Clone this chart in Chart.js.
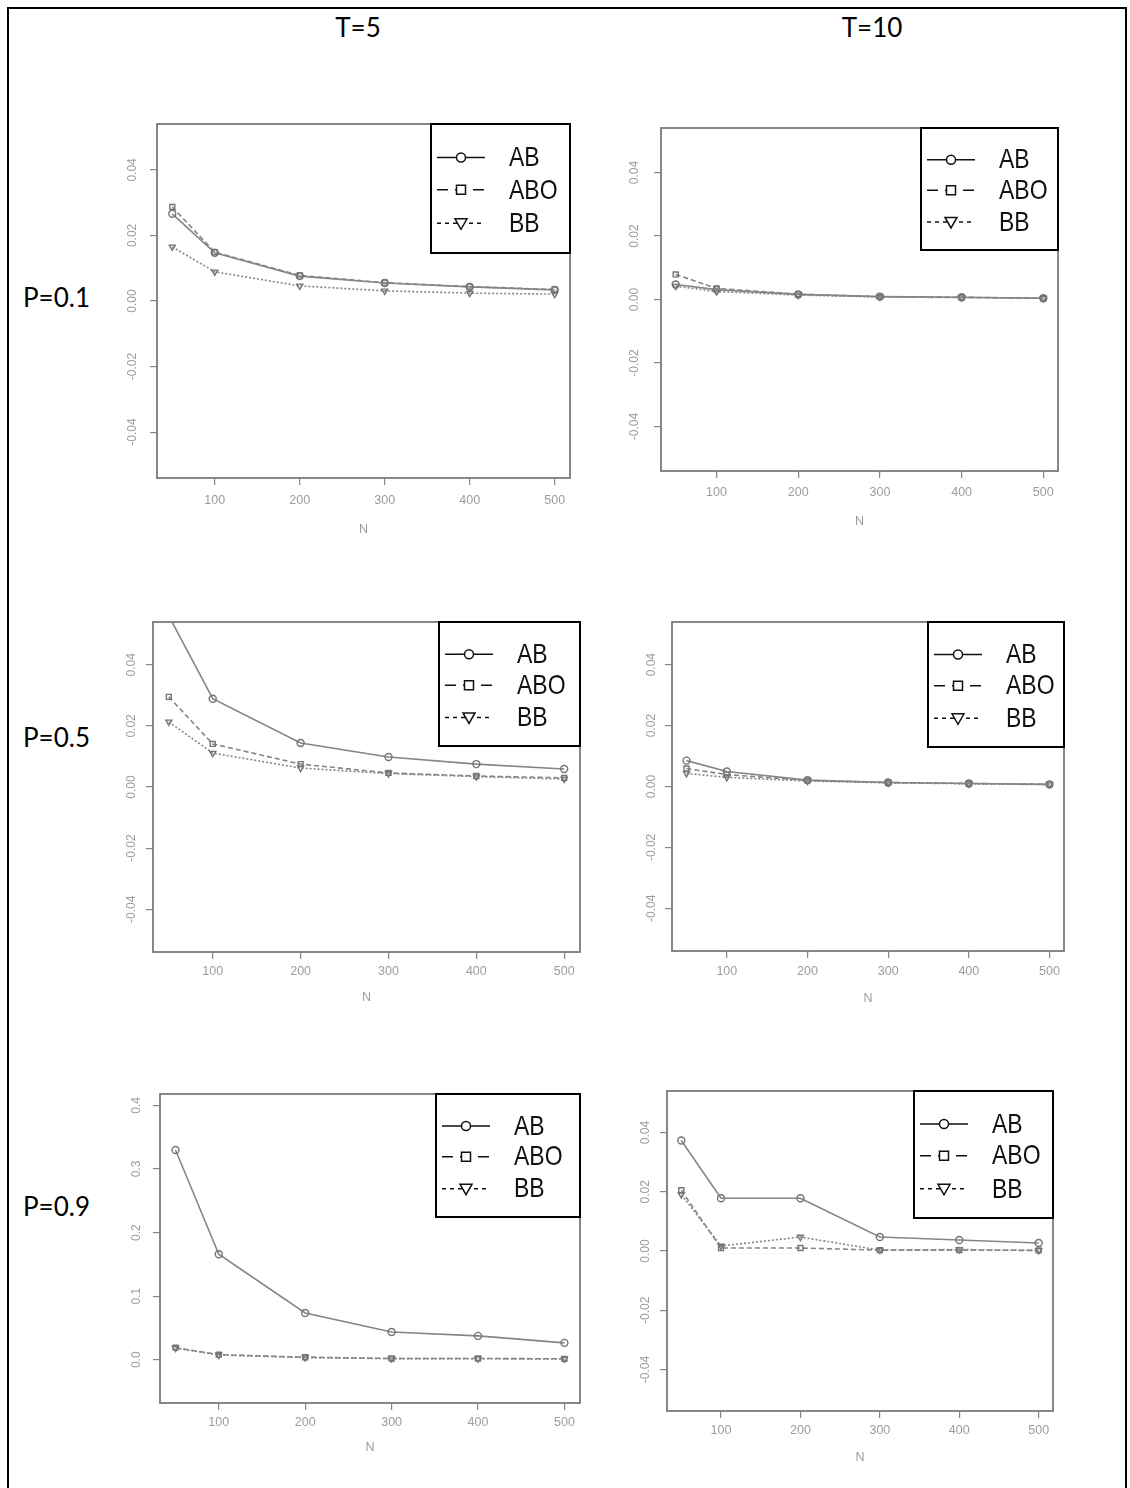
<!DOCTYPE html>
<html>
<head>
<meta charset="utf-8">
<script src="https://cdn.jsdelivr.net/npm/chart.js@4.4.1/dist/chart.umd.min.js"></script>
<style>
  html, body { margin: 0; padding: 0; background: #fff; }
  body { width: 1130px; height: 1488px; position: relative; overflow: hidden; font-family: Lato, "Liberation Sans", sans-serif; }
  #frame { position: absolute; left: 7px; top: 7px; width: 1116px; height: 1500px; border: 2px solid #000; }
  .lbl { position: absolute; font-size: 26px; line-height: 26px; color: #000; white-space: nowrap; }
  .ctr { transform: translateX(-50%); }
  canvas { position: absolute; background: #fff; }
</style>
</head>
<body>
<div id="frame"></div>
<div class="lbl ctr" style="left:358px;top:14px">T=5</div>
<div class="lbl ctr" style="left:872px;top:14px">T=10</div>
<div class="lbl" style="left:23px;top:284px">P=0.1</div>
<div class="lbl" style="left:23px;top:724px">P=0.5</div>
<div class="lbl" style="left:23px;top:1193px">P=0.9</div>

<script>
const nValues = [50, 100, 200, 300, 400, 500];
const nTicks = [100, 200, 300, 400, 500];
const methods = ["AB", "ABO", "BB"];

const yTicksSmall = [-0.04, -0.02, 0, 0.02, 0.04];
const yLabelsSmall = ["-0.04", "-0.02", "0.00", "0.02", "0.04"];
const yTicksLarge = [0, 0.1, 0.2, 0.3, 0.4];
const yLabelsLarge = ["0.0", "0.1", "0.2", "0.3", "0.4"];

// P=0.1, T=5
const abP1T5 = [0.0266, 0.0147, 0.0076, 0.0055, 0.0043, 0.0034];
const aboP1T5 = [0.0287, 0.0149, 0.0078, 0.0056, 0.0044, 0.0035];
const bbP1T5 = [0.0165, 0.0089, 0.0046, 0.0031, 0.0024, 0.0021];

// P=0.1, T=10
const abP1T10 = [0.0047, 0.0031, 0.0016, 0.0009, 0.0007, 0.0004];
const aboP1T10 = [0.0079, 0.0035, 0.0017, 0.0009, 0.0007, 0.0004];
const bbP1T10 = [0.0042, 0.0025, 0.0014, 0.0008, 0.0006, 0.0004];

// P=0.5, T=5
const abP5T5 = [0.056, 0.0289, 0.0144, 0.0098, 0.0075, 0.0059];
const aboP5T5 = [0.0295, 0.0141, 0.0075, 0.0046, 0.0036, 0.0030];
const bbP5T5 = [0.0213, 0.0111, 0.0062, 0.0044, 0.0034, 0.0026];

// P=0.5, T=10
const abP5T10 = [0.0085, 0.0049, 0.0021, 0.0013, 0.0010, 0.0007];
const aboP5T10 = [0.0059, 0.0039, 0.0020, 0.0013, 0.0010, 0.0007];
const bbP5T10 = [0.0043, 0.0030, 0.0018, 0.0012, 0.0009, 0.0006];

// P=0.9, T=5
const abP9T5 = [0.330, 0.166, 0.0735, 0.0437, 0.0375, 0.0266];
const aboP9T5 = [0.019, 0.008, 0.004, 0.002, 0.002, 0.0015];
const bbP9T5 = [0.0185, 0.0075, 0.0035, 0.0018, 0.0017, 0.0013];

// P=0.9, T=10
const abP9T10 = [0.0373, 0.0178, 0.0178, 0.0047, 0.0037, 0.0027];
const aboP9T10 = [0.0205, 0.0010, 0.0010, 0.0003, 0.0003, 0.0002];
const bbP9T10 = [0.0190, 0.0017, 0.0047, 0.0003, 0.0005, 0.0002];

const panels = [
  { series: [abP1T5, aboP1T5, bbP1T5], yMin: -0.054, yMax: 0.054, yTicks: yTicksSmall, yLabels: yLabelsSmall },
  { series: [abP1T10, aboP1T10, bbP1T10], yMin: -0.054, yMax: 0.054, yTicks: yTicksSmall, yLabels: yLabelsSmall },
  { series: [abP5T5, aboP5T5, bbP5T5], yMin: -0.054, yMax: 0.054, yTicks: yTicksSmall, yLabels: yLabelsSmall },
  { series: [abP5T10, aboP5T10, bbP5T10], yMin: -0.054, yMax: 0.054, yTicks: yTicksSmall, yLabels: yLabelsSmall },
  { series: [abP9T5, aboP9T5, bbP9T5], yMin: -0.068, yMax: 0.418, yTicks: yTicksLarge, yLabels: yLabelsLarge },
  { series: [abP9T10, aboP9T10, bbP9T10], yMin: -0.054, yMax: 0.054, yTicks: yTicksSmall, yLabels: yLabelsSmall },
];

// plot box on the page [left, top, right, bottom], legend size, label offsets
const layout = [
  { box: [157, 123, 570, 478], lg: [139, 129], xLab: 23, nLab: 52, yLab: 24 },
  { box: [661, 127, 1058, 471], lg: [137, 122], xLab: 22, nLab: 51, yLab: 26 },
  { box: [153, 621, 580, 952], lg: [141, 124], xLab: 20, nLab: 46, yLab: 21 },
  { box: [672, 621, 1064, 951], lg: [136, 125], xLab: 21, nLab: 48, yLab: 20 },
  { box: [160, 1093, 580, 1403], lg: [144, 123], xLab: 20, nLab: 45, yLab: 23 },
  { box: [667, 1090, 1053, 1411], lg: [139, 127], xLab: 20, nLab: 47, yLab: 21 },
];

const seriesStyle = [
  { dash: [], lgDash: [], point: "circle", rot: 0 },
  { dash: [5, 3], lgDash: [11, 7], point: "rect", rot: 0 },
  { dash: [2, 2], lgDash: [4, 4], point: "triangle", rot: 180 },
];

const yW = 45, padTop = 8, padR = 15, xH = 62;
const rowFrac = [0.26, 0.51, 0.77];
const tickFont = { family: "'Liberation Sans'", size: 12.5 };

function legendMarker(ctx, kind, x, y) {
  ctx.beginPath();
  if (kind === "circle") {
    ctx.arc(x, y, 4.5, 0, Math.PI * 2);
  } else if (kind === "rect") {
    ctx.rect(x - 4.5, y - 4.5, 9, 9);
  } else {
    ctx.moveTo(x - 6, y - 4.5);
    ctx.lineTo(x + 6, y - 4.5);
    ctx.lineTo(x, y + 6);
    ctx.closePath();
  }
  ctx.fill();
  ctx.stroke();
}

const frameAndLegend = {
  id: "frameAndLegend",
  afterDatasetsDraw(chart, args, opts) {
    const { ctx, chartArea: a } = chart;
    ctx.save();

    // box round the plot
    ctx.strokeStyle = "#7a7a7a";
    ctx.lineWidth = 1.8;
    ctx.strokeRect(a.left, a.top, a.right - a.left, a.bottom - a.top);

    // y tick labels, parallel to the axis
    const ys = chart.scales.y;
    ctx.fillStyle = "#9c9c9c";
    ctx.font = "12px 'Liberation Sans'";
    ctx.textAlign = "center";
    ctx.textBaseline = "middle";
    ys.ticks.forEach((t, i) => {
      const py = ys.getPixelForValue(t.value);
      ctx.save();
      ctx.translate(a.left - opts.yLab, py);
      ctx.rotate(-Math.PI / 2);
      ctx.fillText(opts.yLabels[i], 0, 0);
      ctx.restore();
    });

    // legend
    const [lw, lh] = opts.lg;
    const lx = a.right - lw, ly = a.top;
    ctx.fillStyle = "#fff";
    ctx.fillRect(lx, ly, lw, lh);
    ctx.strokeStyle = "#000";
    ctx.lineWidth = 2;
    ctx.strokeRect(lx, ly, lw, lh);

    chart.data.datasets.forEach((ds, i) => {
      const st = seriesStyle[i];
      const ry = ly + lh * rowFrac[i];
      ctx.strokeStyle = "#111";
      ctx.lineWidth = 1.5;
      ctx.setLineDash(st.lgDash);
      ctx.beginPath();
      ctx.moveTo(lx + 6, ry);
      ctx.lineTo(lx + 54, ry);
      ctx.stroke();
      ctx.setLineDash([]);
      ctx.fillStyle = "#fff";
      legendMarker(ctx, st.point, lx + 30, ry);
      // narrow, tall legend text
      ctx.save();
      ctx.translate(lx + 78, ry + 1);
      ctx.scale(0.82, 1);
      ctx.fillStyle = "#111";
      ctx.font = "28px 'Liberation Sans'";
      ctx.textAlign = "left";
      ctx.textBaseline = "middle";
      ctx.fillText(ds.label, 0, 0);
      ctx.restore();
    });
    ctx.restore();
  }
};

panels.forEach((p, k) => {
  const g = layout[k];
  const [L, T, R, B] = g.box;
  const cv = document.createElement("canvas");
  cv.width = (R - L) + yW + padR;
  cv.height = (B - T) + padTop + xH;
  cv.style.left = (L - yW) + "px";
  cv.style.top = (T - padTop) + "px";
  document.body.appendChild(cv);

  new Chart(cv, {
    type: "line",
    data: {
      datasets: methods.map((m, i) => ({
        label: m,
        data: nValues.map((n, j) => ({ x: n, y: p.series[i][j] })),
        borderColor: "#858585",
        borderWidth: 1.6,
        borderDash: seriesStyle[i].dash,
        pointStyle: seriesStyle[i].point,
        rotation: seriesStyle[i].rot,
        pointRadius: 3.5,
        pointBorderColor: "#747474",
        pointBackgroundColor: "rgba(255,255,255,0)",
        pointBorderWidth: 1.4,
        tension: 0,
        clip: 0
      }))
    },
    options: {
      responsive: false,
      animation: false,
      devicePixelRatio: 1,
      layout: { padding: { left: 0, top: padTop, right: padR, bottom: 0 } },
      plugins: {
        legend: { display: false },
        tooltip: { enabled: false },
        frameAndLegend: { yLabels: p.yLabels, yLab: g.yLab, lg: g.lg }
      },
      scales: {
        x: {
          type: "linear",
          min: 32,
          max: 518,
          afterBuildTicks: (s) => { s.ticks = nTicks.map((v) => ({ value: v })); },
          afterFit: (s) => { s.height = xH; },
          grid: { drawOnChartArea: false, drawTicks: true, tickLength: 7, color: "#888", lineWidth: 1.2 },
          border: { display: false },
          ticks: {
            autoSkip: false, maxRotation: 0, minRotation: 0,
            padding: g.xLab - 14.5,
            color: "#9c9c9c",
            font: tickFont,
            callback: (v) => String(v)
          },
          title: {
            display: true, text: "N", color: "#9c9c9c",
            font: tickFont,
            padding: { top: 0, bottom: xH - 7.5 - g.nLab }
          }
        },
        y: {
          type: "linear",
          min: p.yMin,
          max: p.yMax,
          afterBuildTicks: (s) => { s.ticks = p.yTicks.map((v) => ({ value: v })); },
          afterFit: (s) => { s.width = yW; },
          grid: { drawOnChartArea: false, drawTicks: true, tickLength: 7, color: "#888", lineWidth: 1.2 },
          border: { display: false },
          ticks: { color: "rgba(0,0,0,0)", font: { size: 10 } }
        }
      }
    },
    plugins: [frameAndLegend]
  });
});
</script>
</body>
</html>
